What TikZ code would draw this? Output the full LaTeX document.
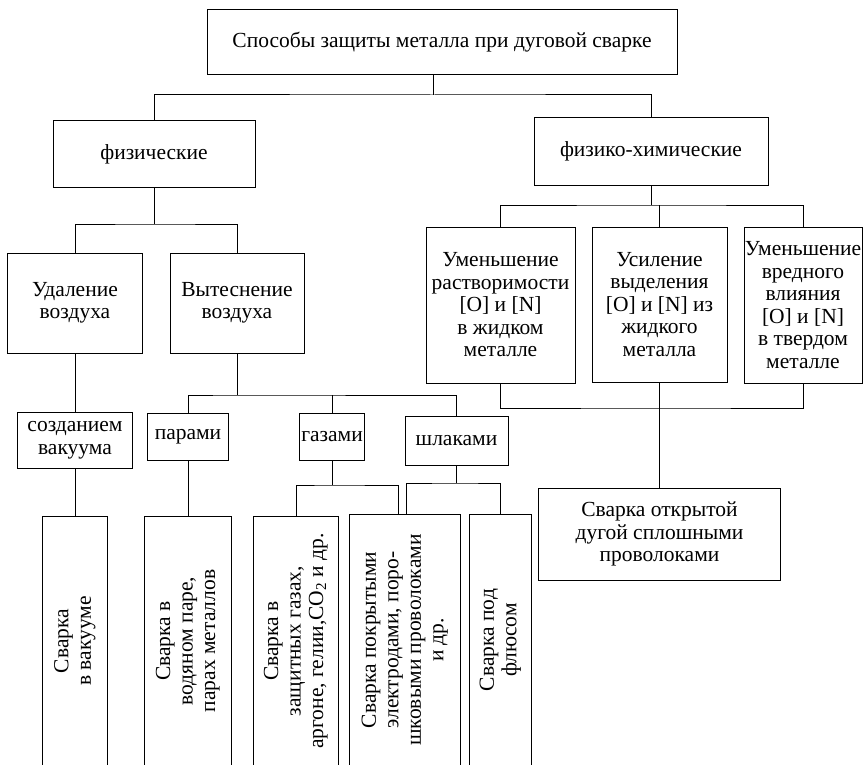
\documentclass[tikz,border=0pt]{standalone}
\usepackage{fontspec}
\setmainfont{Liberation Serif}
\usepackage{graphicx}
\usetikzlibrary{positioning,calc}

\newcommand{\boxfont}{\fontsize{21.5}{22.5}\selectfont}
\newcommand{\vtext}[1]{\rotatebox{90}{\begin{tabular}{@{}c@{}}#1\end{tabular}}}

\begin{document}
\begin{tikzpicture}[x=1pt, y=-1pt,
    blk/.style={draw, line width=1pt, align=center, inner sep=0pt, font=\boxfont},
    vblk/.style={align=center, inner sep=0pt, font=\boxfont},
    link/.style={line width=1pt}
  ]
    \useasboundingbox (0,0) rectangle (864,765);
    \node[blk, minimum width=470pt, minimum height=65pt] (top) at (442,42.5) {Способы защиты металла при дуговой сварке};
    \node[blk, minimum width=202pt, minimum height=66pt] (fiz) at (154,154) {физические};
    \node[blk, minimum width=234pt, minimum height=67pt] (fch) at (651,151.5) {физико-химические};
    \node[blk, minimum width=135pt, minimum height=100pt] (udal) at (75,303) {Удаление\\воздуха};
    \node[blk, minimum width=134pt, minimum height=100pt] (vyt) at (237,303) {Вытеснение\\воздуха};
    \node[blk, minimum width=149pt, minimum height=156pt] (ua) at (500.5,305) {Уменьшение\\растворимости\\{[O] и [N]}\\в жидком\\металле};
    \node[blk, minimum width=135pt, minimum height=155pt] (us) at (659.5,304.5) {Усиление\\выделения\\{[O] и [N]} из\\жидкого\\металла};
    \node[blk, minimum width=118pt, minimum height=156pt] (ur) at (803,305) {Уменьшение\\вредного\\влияния\\{[O] и [N]}\\в твердом\\металле};
    \node[blk, minimum width=115pt, minimum height=56pt] (vak) at (75,440) {созданием\\вакуума};
    \node[blk, minimum width=81pt, minimum height=47pt] (par) at (188,436.5) {парами};
    \node[blk, minimum width=65pt, minimum height=47pt] (gaz) at (332,436.5) {газами};
    \node[blk, minimum width=103pt, minimum height=49pt] (shl) at (456.5,440.5) {шлаками};
    \node[blk, minimum width=242pt, minimum height=92pt] (sv) at (659.5,534) {Сварка открытой\\дугой сплошными\\проволоками};
    \node[vblk, minimum width=65pt, minimum height=248pt] (v1) at (75,641) {\vtext{Сварка\\в вакууме}};
    \node[vblk, minimum width=86pt, minimum height=248pt] (v2) at (188,641) {\vtext{Сварка в\\водяном паре,\\парах металлов}};
    \node[vblk, minimum width=84pt, minimum height=248pt] (v3) at (296,641) {\vtext{Сварка в\\защитных газах,\\аргоне, гелии,CO\textsubscript{2} и др.}};
    \node[vblk, minimum width=110pt, minimum height=250pt] (v4) at (405,640) {\vtext{Сварка покрытыми\\электродами, поро-\\шковыми проволоками\\и др.}};
    \node[vblk, minimum width=61pt, minimum height=250pt] (v5) at (500.5,640) {\vtext{Сварка под\\флюсом}};
    \foreach \n in {v1,v2,v3,v4,v5}
      \draw[link] (\n.south west) |- (\n.north east) -- (\n.south east);
    \coordinate (b1) at (433,95);
    \coordinate (b2) at (154,224);
    \coordinate (b3) at (237,395);
    \coordinate (b4) at (332,485);
    \coordinate (b5) at (456.5,483);
    \coordinate (b6) at (651,205);
    \coordinate (b7) at (659.5,408);
    \draw[link] (top.south -| b1) -- (b1);
    \draw[link] (fiz.north) |- (b1) -| (fch.north);
    \draw[link] (fiz.south) -- (b2);
    \draw[link] (udal.north) |- (b2) -| (vyt.north);
    \draw[link] (udal.south) -- (vak.north);
    \draw[link] (vak.south) -- (v1.north);
    \draw[link] (vyt.south) -- (b3);
    \draw[link] (par.north) |- (b3) -| (shl.north);
    \draw[link] (gaz.north) -- (gaz.north |- b3);
    \draw[link] (par.south) -- (v2.north);
    \draw[link] (gaz.south) -- (b4);
    \draw[link] (v3.north) |- (b4) -| ([xshift=-7pt]v4.north);
    \draw[link] (shl.south) -- (b5);
    \draw[link] ([xshift=1pt]v4.north) |- (b5) -| (v5.north);
    \draw[link] (fch.south) -- (b6);
    \draw[link] (ua.north) |- (b6) -| (ur.north);
    \draw[link] (us.north) -- (us.north |- b6);
    \draw[link] (ua.south) |- (b7) -| (ur.south);
    \draw[link] (us.south) -- (sv.north);
  \end{tikzpicture}
\end{document}
